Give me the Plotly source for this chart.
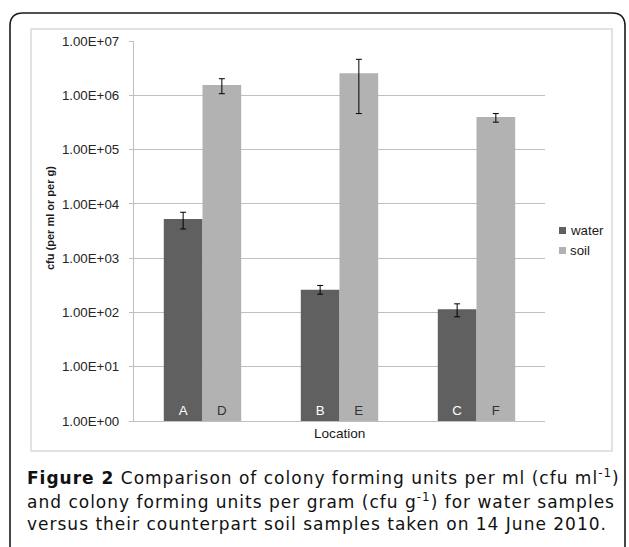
import plotly.graph_objects as go

# ---- data ----
locations = [0, 1, 2]
series_names = ["water", "soil"]
water_values = [5250, 261, 115]
water_err_hi = [7000, 314, 144]
water_err_lo = [3450, 217, 83]
soil_values = [1.55e6, 2.54e6, 3.98e5]
soil_err_hi = [2.02e6, 4.6e6, 4.6e5]
soil_err_lo = [1.07e6, 4.6e5, 3.2e5]
water_labels = ["A", "B", "C"]
soil_labels = ["D", "E", "F"]
tick_vals = [1, 10, 100, 1e3, 1e4, 1e5, 1e6, 1e7]
tick_text = ["1.00E+00", "1.00E+01", "1.00E+02", "1.00E+03",
             "1.00E+04", "1.00E+05", "1.00E+06", "1.00E+07"]
x_title = "Location"
y_title = "cfu (per ml or per g)"
caption_lines = [
    "<b>Figure 2</b> Comparison of colony forming units per ml (cfu ml<sup>-1</sup>)",
    "and colony forming units per gram (cfu g<sup>-1</sup>) for water samples",
    "versus their counterpart soil samples taken on 14 June 2010.",
]

W, H = 629, 547
L, R, T, B = 134, 545, 41, 421
PW, PH = R - L, B - T

def px(x):
    return (x - L) / PW

def py(y):
    return 1 - (y - T) / PH

WATER = "#606060"
SOIL = "#b2b2b2"
FONT = "Liberation Sans"
CAPFONT = "DejaVu Sans"
FS = 13.3

fig = go.Figure()
fig.add_trace(go.Bar(
    x=locations, y=water_values, name=series_names[0],
    marker=dict(color=WATER, line=dict(width=0)),
    error_y=dict(type="data", symmetric=False,
                 array=[h - v for h, v in zip(water_err_hi, water_values)],
                 arrayminus=[v - l for l, v in zip(water_err_lo, water_values)],
                 color="#000000", thickness=1, width=3),
    text=water_labels, textposition="inside", insidetextanchor="start",
    textfont=dict(color="white", size=FS, family=FONT),
    showlegend=False, cliponaxis=False,
))
fig.add_trace(go.Bar(
    x=locations, y=soil_values, name=series_names[1],
    marker=dict(color=SOIL, line=dict(width=0)),
    error_y=dict(type="data", symmetric=False,
                 array=[h - v for h, v in zip(soil_err_hi, soil_values)],
                 arrayminus=[v - l for l, v in zip(soil_err_lo, soil_values)],
                 color="#000000", thickness=1, width=3),
    text=soil_labels, textposition="inside", insidetextanchor="start",
    textfont=dict(color="#333333", size=FS, family=FONT),
    showlegend=False, cliponaxis=False,
))

shapes = []
# outer light-gray chart frame
shapes.append(dict(type="rect", xref="paper", yref="paper",
                   x0=px(31), x1=px(612), y0=py(451), y1=py(29),
                   line=dict(color="#d9d9d9", width=1.5), layer="below"))

# rounded black outer border (open at bottom)
def pt(x, y):
    return f"{px(x)},{py(y)}"
r = 13
x0b, x1b, y0b, ybot = 10, 625, 13, 570
path = (f"M {pt(x0b, ybot)} L {pt(x0b, y0b + r)} Q {pt(x0b, y0b)} {pt(x0b + r, y0b)} "
        f"L {pt(x1b - r, y0b)} Q {pt(x1b, y0b)} {pt(x1b, y0b + r)} L {pt(x1b, ybot)}")
shapes.append(dict(type="path", xref="paper", yref="paper", path=path,
                   line=dict(color="#1a1a1a", width=1.6)))

# custom legend squares
leg_y = [230.5, 250.5]
leg_col = [WATER, SOIL]
for yy, cc in zip(leg_y, leg_col):
    shapes.append(dict(type="rect", xref="paper", yref="paper",
                       x0=px(559), x1=px(566), y0=py(yy + 3.5), y1=py(yy - 3.5),
                       fillcolor=cc, line=dict(width=0)))

annotations = []
for yy, name in zip(leg_y, series_names):
    annotations.append(dict(xref="paper", yref="paper", x=px(567.5), y=py(yy),
                            xanchor="left", yanchor="middle", text=name,
                            showarrow=False, font=dict(size=FS, family=FONT, color="#1a1a1a")))

annotations.append(dict(xref="paper", yref="paper", x=px(339.5), y=py(433),
                        xanchor="center", yanchor="middle", text=x_title,
                        showarrow=False, font=dict(size=13.6, family=FONT, color="#1a1a1a")))
annotations.append(dict(xref="paper", yref="paper", x=px(50), y=py(218),
                        xanchor="center", yanchor="middle", text="<b>" + y_title + "</b>",
                        textangle=-90, showarrow=False,
                        font=dict(size=11, family=FONT, color="#1a1a1a")))

cap_y = [477, 500.5, 524]
for yy, line in zip(cap_y, caption_lines):
    annotations.append(dict(xref="paper", yref="paper", x=px(25), y=py(yy),
                            xanchor="left", yanchor="middle",
                            text='<span style="letter-spacing:1px">' + line + '</span>',
                            showarrow=False,
                            font=dict(size=17, family=CAPFONT, color="#111111")))

fig.update_layout(
    width=W, height=H,
    margin=dict(l=L, r=W - R, t=T, b=H - B, pad=0),
    paper_bgcolor="white", plot_bgcolor="white",
    barmode="group", bargap=0.435, bargroupgap=0,
    shapes=shapes, annotations=annotations,
    font=dict(family=FONT, size=FS, color="#262626"),
)
fig.update_xaxes(range=[-0.5, 2.5], showticklabels=False, showgrid=False,
                 showline=True, linecolor="#bfbfbf", linewidth=1.3,
                 ticks="", zeroline=False, fixedrange=True)
fig.update_yaxes(type="log", range=[0, 7], tickvals=tick_vals, ticktext=tick_text,
                 showgrid=True, gridcolor="#bfbfbf", gridwidth=1.1,
                 showline=True, linecolor="#bfbfbf", linewidth=1.3,
                 ticks="outside", ticklen=4, tickcolor="#bfbfbf",
                 ticklabelstandoff=7, tickfont=dict(size=FS, family=FONT, color="#262626"),
                 zeroline=False, fixedrange=True)

fig.write_html("out.html", config={"displayModeBar": False},
               post_script="document.body.style.margin='0';document.body.style.overflow='hidden';")
